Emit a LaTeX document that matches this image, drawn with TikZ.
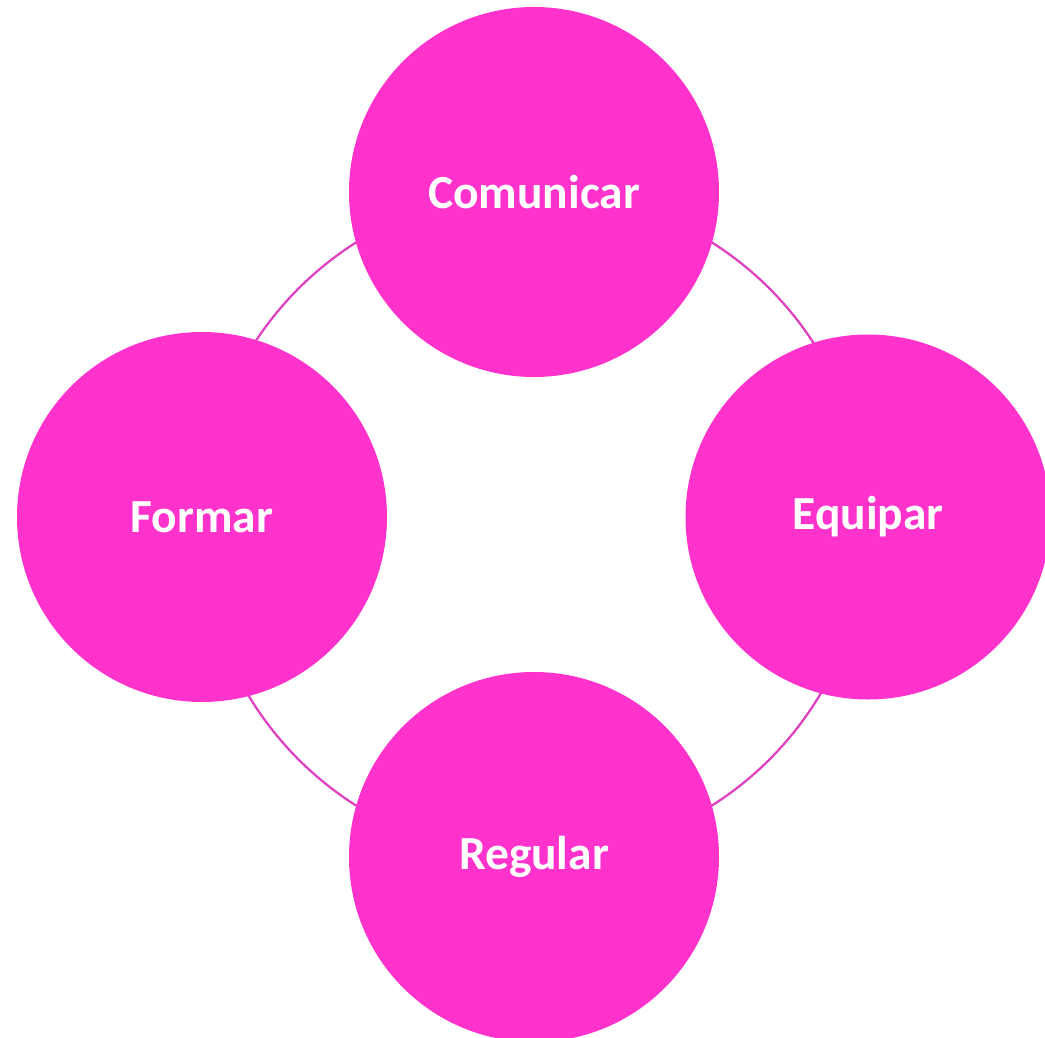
\documentclass[tikz,border=0pt]{standalone}
\usepackage{fontspec}
\setmainfont{Carlito}
\usepackage{tikz}
\usetikzlibrary{positioning}
\definecolor{rosa}{RGB}{255,51,204}
\definecolor{aro}{RGB}{222,64,192}

\tikzset{
    etapa/.style={circle,fill=rosa,minimum size=74mm,inner sep=0pt,
        text=white,font=\fontsize{27}{32}\selectfont\bfseries}
}

\begin{document}
\begin{tikzpicture}[x=0.2mm,y=-0.2mm]
        \useasboundingbox (0,0) rectangle (1045,1038);
        \coordinate (M) at (534,524);
        \draw[aro,line width=0.45mm] (M) circle[radius=333];

        \node[etapa] (C) at (534,192) {Comunicar};
        \node[etapa] (F) at (202,517) {Formar};
        \node[etapa,minimum size=73mm] (E) at (868,517) {Equipar};
        \node[etapa] (R) at (534,857) {Regular};
\end{tikzpicture}
\end{document}
